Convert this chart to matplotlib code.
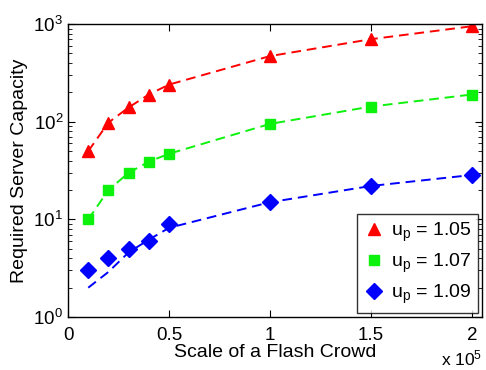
import numpy as np
import matplotlib
matplotlib.use("Agg")
import matplotlib.pyplot as plt
from matplotlib.ticker import FuncFormatter, LogLocator, NullFormatter

plt.rcParams["font.family"] = ["Liberation Sans", "DejaVu Sans"]
plt.rcParams["mathtext.fontset"] = "custom"
plt.rcParams["mathtext.rm"] = "Liberation Sans"
plt.rcParams["mathtext.it"] = "Liberation Sans"

# flash crowd scale (number of clients)
crowd = [10000, 20000, 30000, 40000, 50000, 100000, 150000, 200000]

# measured capacity (markers)
cap_105 = [50, 98, 140, 190, 240, 470, 700, 950]
cap_107 = [10, 20, 30, 39, 47, 95, 143, 190]
cap_109 = [3, 4, 5, 6, 9, 15, 22, 28.5]

# model curves (dashed)
fit_105 = [50, 98, 140, 190, 240, 470, 700, 950]
fit_107 = [10, 20, 30, 39, 47, 95, 143, 190]
fit_109 = [2.0, 2.9, 4.6, 6.2, 8.2, 15, 22, 28.5]

labels = ["1.05", "1.07", "1.09"]

fig = plt.figure(figsize=(4.86, 3.70), dpi=100)
ax = fig.add_axes([0.14, 0.143, 0.852, 0.792])

series = [
    (cap_105, fit_105, (1, 0, 0), "^", 9),
    (cap_107, fit_107, (0.05, 0.95, 0.05), "s", 7),
    (cap_109, fit_109, (0, 0, 1), "D", 8),
]
for (cap, fit, col, mk, ms), lab in zip(series, labels):
    ax.plot(crowd, fit, "--", color=col, lw=1.4, dashes=(5, 3))
    ax.plot(crowd, cap, linestyle="none", marker=mk, color=col, markersize=ms,
            label=r"u$_{\rm p}$ = " + lab)

ax.set_yscale("log")
ax.set_ylim(1, 1000)
ax.set_xlim(0, 205000)
ax.set_xticks([0, 50000, 100000, 150000, 200000])
ax.xaxis.set_major_formatter(FuncFormatter(lambda v, p: "%g" % (v / 1e5)))
ax.yaxis.set_major_locator(LogLocator(base=10, numticks=10))
ax.yaxis.set_minor_locator(LogLocator(base=10, subs=np.arange(2, 10), numticks=10))
ax.yaxis.set_minor_formatter(NullFormatter())

ax.tick_params(which="both", direction="in", top=True, right=True, labelsize=13.5)
ax.tick_params(which="major", length=5)
ax.tick_params(which="minor", length=3)
ax.tick_params(axis="x", which="major", pad=7)
for s in ax.spines.values():
    s.set_linewidth(1.0)

ax.set_xlabel("Scale of a Flash Crowd", fontsize=14, labelpad=0)
ax.set_ylabel("Required Server Capacity", fontsize=14, labelpad=4)
ax.text(1.0, -0.165, r"x 10$^5$", transform=ax.transAxes, ha="right", va="baseline",
        fontsize=12.5)

leg = ax.legend(loc="lower right", bbox_to_anchor=(0.99, 0.015), borderaxespad=0,
                fontsize=14, frameon=True, fancybox=False, handletextpad=0.3,
                borderpad=0.35, handlelength=1.1, labelspacing=0.4)
leg.get_frame().set_edgecolor("black")
leg.get_frame().set_linewidth(1.0)

fig.savefig("out.png", dpi=100)
